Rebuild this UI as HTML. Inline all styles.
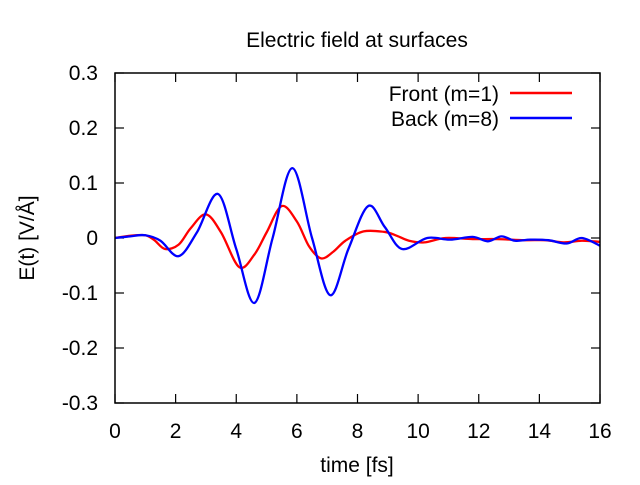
<!DOCTYPE html>
<html><head><meta charset="utf-8"><style>
body{margin:0;background:#fff;}
svg text{font-family:"Liberation Sans",sans-serif;fill:#000;}
</style></head><body>
<svg id="chart" width="640" height="480" xmlns="http://www.w3.org/2000/svg">
<text x="357" y="47" font-size="21" text-anchor="middle">Electric field at surfaces</text>
<g id="axes"></g>
<g id="series"></g>
<rect x="115" y="73" width="485" height="330" fill="none" stroke="#000" stroke-width="1.5"/>
<text x="357" y="472" font-size="21" text-anchor="middle">time [fs]</text>
<text transform="translate(34,238) rotate(-90)" font-size="21" text-anchor="middle">E(t) [V/Å]</text>
<g>
<text x="499" y="101" font-size="21" text-anchor="end">Front (m=1)</text>
<line x1="510" y1="93" x2="572" y2="93" stroke="#f00" stroke-width="2.5"/>
<text x="499" y="126" font-size="21" text-anchor="end">Back (m=8)</text>
<line x1="510" y1="118" x2="572" y2="118" stroke="#00f" stroke-width="2.5"/>
</g>
</svg>
<script>
const xTicks=[0,2,4,6,8,10,12,14,16];
const yTicks=[-0.3,-0.2,-0.1,0,0.1,0.2,0.3];
const yTickLabels=["-0.3","-0.2","-0.1","0","0.1","0.2","0.3"];
const frontT=[0,0.5,1.0,1.3,1.65,2.1,2.5,3.0,3.5,4.1,4.6,5.0,5.5,6.0,6.4,6.8,7.2,7.6,8.2,8.9,9.3,9.7,10.2,10.9,11.8,12.6,13.5,14.2,14.8,15.4,16];
const frontV=[0,0.004,0.005,-0.004,-0.02,-0.012,0.018,0.043,0.01,-0.053,-0.03,0.01,0.058,0.03,-0.015,-0.037,-0.025,-0.005,0.012,0.011,0.004,-0.005,-0.008,0.0,-0.002,-0.002,-0.004,-0.004,-0.008,-0.005,-0.007];
const backT=[0,0.5,1.0,1.5,2.1,2.7,3.4,4.0,4.6,5.2,5.85,6.5,7.1,7.7,8.35,8.9,9.47,10.3,11.05,11.8,12.3,12.75,13.2,13.7,14.3,14.9,15.4,16];
const backV=[0,0.003,0.005,-0.005,-0.033,0.01,0.08,-0.02,-0.118,0.0,0.127,0.0,-0.104,-0.02,0.058,0.02,-0.02,0.0,-0.003,0.002,-0.006,0.003,-0.005,-0.003,-0.004,-0.01,0.0,-0.014];
const X0=115,X1=600,Y0=403,Y1=73;
const xs=t=>X0+(t-0)/(16-0)*(X1-X0);
const ys=v=>Y0-(v+0.3)/0.6*(Y0-Y1);
const NS="http://www.w3.org/2000/svg";
const axes=document.getElementById('axes');
function mk(tag,attrs,parent){const e=document.createElementNS(NS,tag);for(const k in attrs)e.setAttribute(k,attrs[k]);parent.appendChild(e);return e;}
xTicks.forEach(t=>{
  const x=xs(t);
  const a=mk('line',{x1:x,y1:Y0,x2:x,y2:Y0-9,stroke:'#000','stroke-width':1.2},axes);
  
  
  const b=mk('line',{x1:x,y1:Y1,x2:x,y2:Y1+9,stroke:'#000','stroke-width':1.2},axes);
  
  
  const l=mk('text',{x:x,y:438,'font-size':21,'text-anchor':'middle'},axes);
  l.textContent=t;
  
  
});
yTicks.forEach((v,i)=>{
  const y=ys(v);
  const a=mk('line',{x1:X0,y1:y,x2:X0+9,y2:y,stroke:'#000','stroke-width':1.2},axes);
  
  
  const b=mk('line',{x1:X1,y1:y,x2:X1-9,y2:y,stroke:'#000','stroke-width':1.2},axes);
  
  
  const l=mk('text',{x:98,y:y+7,'font-size':21,'text-anchor':'end'},axes);
  l.textContent=yTickLabels[i];
  
  
});
function smoothPath(T,V){
  const p=T.map((t,i)=>[xs(t),ys(V[i])]);
  let d='M'+p[0][0]+','+p[0][1];
  for(let i=0;i<p.length-1;i++){
    const p0=p[Math.max(0,i-1)],p1=p[i],p2=p[i+1],p3=p[Math.min(p.length-1,i+2)];
    const c1=[p1[0]+(p2[0]-p0[0])/6,p1[1]+(p2[1]-p0[1])/6];
    const c2=[p2[0]-(p3[0]-p1[0])/6,p2[1]-(p3[1]-p1[1])/6];
    d+=' C'+c1[0]+','+c1[1]+' '+c2[0]+','+c2[1]+' '+p2[0]+','+p2[1];
  }
  return d;
}
const ser=document.getElementById('series');
const pf=mk('path',{d:smoothPath(frontT,frontV),fill:'none',stroke:'#f00','stroke-width':2.3},ser);


const pb=mk('path',{d:smoothPath(backT,backV),fill:'none',stroke:'#00f','stroke-width':2.3},ser);


</script>
</body></html>
